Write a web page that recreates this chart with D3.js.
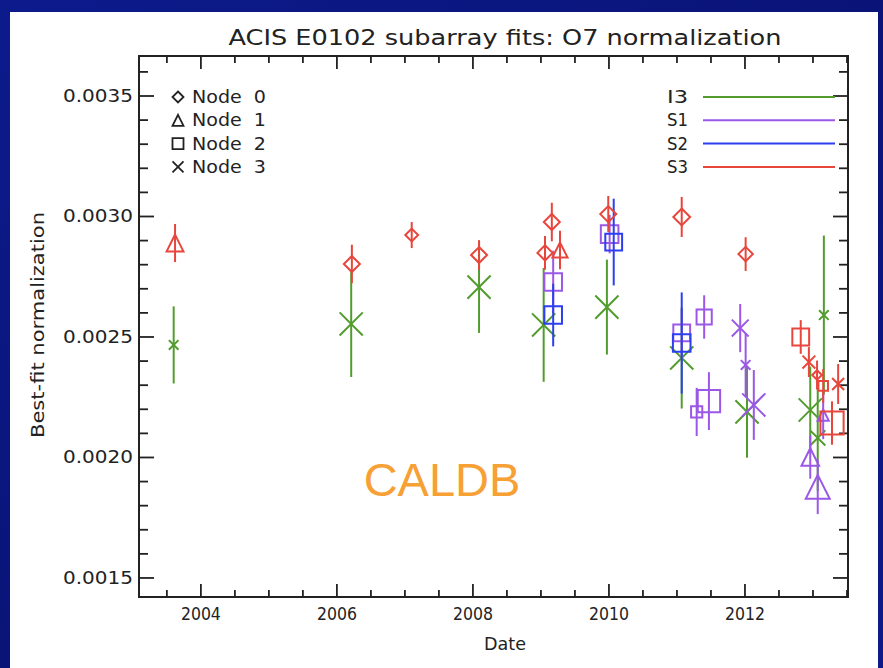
<!DOCTYPE html>
<html><head><meta charset="utf-8">
<script src="https://cdn.jsdelivr.net/npm/d3@7"></script>
<style>html,body{margin:0;padding:0;background:#0a1684;}svg{display:block}</style>
</head><body><svg id="c" width="883" height="668"></svg>
<script>
// ---- data ----
const chips = ["I3", "S1", "S2", "S3"];
const nodeLabels = ["Node 0", "Node 1", "Node 2", "Node 3"];
const xTickYears = [2004, 2006, 2008, 2010, 2012];
const yTickValues = [0.0015, 0.0020, 0.0025, 0.0030, 0.0035];
const yTickLabels = ["0.0015", "0.0020", "0.0025", "0.0030", "0.0035"];

const i3Dates  = [2003.60, 2006.21, 2008.09, 2009.04, 2009.97, 2011.07, 2012.03, 2012.96, 2013.07, 2013.16];
const i3Values = [0.002467, 0.002554, 0.002707, 0.002550, 0.002624, 0.002413, 0.002189, 0.002197, 0.002081, 0.002591];
const i3Errors = [0.00016, 0.00022, 0.00019, 0.000236, 0.000197, 0.00021, 0.00019, 0.00018, 0.00022, 0.00033];
const i3Nodes  = [3, 3, 3, 3, 3, 3, 3, 3, 3, 3];
const i3SymSize = [0.6, 1.45, 1.45, 1.45, 1.45, 1.45, 1.45, 1.45, 0.95, 0.6];

const s1Dates  = [2009.18, 2010.01, 2011.07, 2011.40, 2011.29, 2011.47, 2011.93, 2012.01, 2012.13, 2012.96, 2013.07, 2013.15];
const s1Values = [0.002728, 0.002927, 0.002517, 0.002583, 0.002189, 0.002234, 0.002537, 0.002384, 0.002218, 0.002002, 0.001878, 0.002176];
const s1Errors = [0.00013, 0.00008, 0.00010, 0.00009, 0.00010, 0.00012, 0.00010, 0.00013, 0.000145, 0.00009, 0.000113, 0.00010];
const s1Nodes  = [2, 2, 2, 2, 2, 2, 3, 3, 3, 1, 1, 1];
const s1SymSize = [1.1, 1.1, 1.05, 0.95, 0.7, 1.4, 1.05, 0.6, 1.45, 1.1, 1.5, 0.7];

const s2Dates  = [2009.18, 2010.07, 2011.07];
const s2Values = [0.002591, 0.002894, 0.002475];
const s2Errors = [0.00013, 0.00018, 0.00021];
const s2Nodes  = [2, 2, 2];
const s2SymSize = [1.1, 1.05, 1.1];

const s3Dates  = [2003.62, 2006.22, 2007.10, 2008.09, 2009.06, 2009.16, 2009.28, 2009.99, 2011.07, 2012.01, 2012.82, 2012.94, 2013.06, 2013.15, 2013.28, 2013.37];
const s3Values = [0.002890, 0.002803, 0.002923, 0.002840, 0.002849, 0.002977, 0.002861, 0.003010, 0.002998, 0.002844, 0.002500, 0.002396, 0.002342, 0.002297, 0.002143, 0.002305];
const s3Errors = [0.000079, 0.00008, 0.000054, 0.000062, 0.00007, 0.00008, 0.00008, 0.000075, 0.000083, 0.00007, 0.00007, 0.000062, 0.00006, 0.00007, 0.00009, 0.000083];
const s3Nodes  = [1, 0, 0, 0, 0, 0, 1, 0, 0, 0, 2, 3, 0, 2, 2, 3];
const s3SymSize = [1.05, 1.0, 0.8, 1.0, 0.95, 1.0, 0.95, 1.0, 1.05, 0.9, 1.05, 0.8, 0.6, 0.6, 1.45, 0.75];

// ---- styles ----
const chipColors = {I3: "#529c2e", S1: "#9b58e6", S2: "#2d3ff0", S3: "#e8463c"};
const series = [
  {chip: "I3", d: i3Dates, v: i3Values, e: i3Errors, n: i3Nodes, s: i3SymSize},
  {chip: "S1", d: s1Dates, v: s1Values, e: s1Errors, n: s1Nodes, s: s1SymSize},
  {chip: "S2", d: s2Dates, v: s2Values, e: s2Errors, n: s2Nodes, s: s2SymSize},
  {chip: "S3", d: s3Dates, v: s3Values, e: s3Errors, n: s3Nodes, s: s3SymSize}
];

const svg = d3.select("#c");
const defs = svg.append("defs");
const g0 = defs.append("linearGradient").attr("id","bg").attr("x1",0).attr("y1",0).attr("x2",1).attr("y2",1);
g0.append("stop").attr("offset","0%").attr("stop-color","#0c1b8c");
g0.append("stop").attr("offset","50%").attr("stop-color","#0a1478");
g0.append("stop").attr("offset","100%").attr("stop-color","#0d1a88");
svg.append("rect").attr("width",883).attr("height",668).attr("fill","url(#bg)");
svg.append("rect").attr("x",10).attr("y",12).attr("width",868).attr("height",656).attr("fill","#fff");

const L = 139, R = 848, T = 56, B = 597;
const x = d3.scaleLinear().domain([2003.09, 2013.515]).range([L, R]);
const y = d3.scaleLinear().domain([0.001421, 0.003666]).range([B, T]);
const symPx = d3.scaleLinear().domain([0, 1]).range([0, 16]);

const FONT = "'DejaVu Sans', 'Liberation Sans', sans-serif";
const ink = "#222";

// title
svg.append("text").attr("x", 505).attr("y", 45).attr("text-anchor","middle")
  .attr("font-family", FONT).attr("font-size", 22).attr("fill", ink)
  .attr("textLength", 553).attr("lengthAdjust","spacingAndGlyphs")
  .text("ACIS E0102 subarray fits: O7 normalization");

// frame
svg.append("rect").attr("x",L).attr("y",T).attr("width",R-L).attr("height",B-T)
  .attr("fill","none").attr("stroke",ink).attr("stroke-width",2);

// axes
const xMinor = d3.range(2003.5, 2013.51, 0.5);
const yMinor = d3.range(15, 37, 1).map(v => v / 10000);
const axG = svg.append("g").attr("stroke", ink).attr("stroke-width", 1.8);
function isMajorX(t){ return xTickYears.some(m => Math.abs(m - t) < 1e-6); }
function isMajorY(t){ return yTickValues.some(m => Math.abs(m - t) < 1e-9); }
xMinor.forEach(t => {
  const len = isMajorX(t) ? 13 : 7;
  const px = x(t);
  axG.append("line").attr("x1",px).attr("x2",px).attr("y1",B).attr("y2",B-len);
  axG.append("line").attr("x1",px).attr("x2",px).attr("y1",T).attr("y2",T+len);
});
yMinor.forEach(t => {
  if (t > y.domain()[1]) return;
  const len = isMajorY(t) ? 15 : 9;
  const py = y(t);
  axG.append("line").attr("x1",L).attr("x2",L+len).attr("y1",py).attr("y2",py);
  axG.append("line").attr("x1",R).attr("x2",R-len).attr("y1",py).attr("y2",py);
});

// tick labels
xTickYears.forEach(t => {
  svg.append("text").attr("x", x(t)).attr("y", 620).attr("text-anchor","middle")
    .attr("font-family", FONT).attr("font-size", 17).attr("fill", ink)
    .attr("textLength", 40).attr("lengthAdjust","spacingAndGlyphs").text(String(t));
});
yTickValues.forEach((t, i) => {
  svg.append("text").attr("x", 133).attr("y", y(t) + 6).attr("text-anchor","end")
    .attr("font-family", FONT).attr("font-size", 17).attr("fill", ink)
    .attr("textLength", 70).attr("lengthAdjust","spacingAndGlyphs").text(yTickLabels[i]);
});
svg.append("text").attr("x", 505).attr("y", 650).attr("text-anchor","middle")
  .attr("font-family", FONT).attr("font-size", 17).attr("fill", ink)
  .attr("textLength", 42).attr("lengthAdjust","spacingAndGlyphs").text("Date");
svg.append("text").attr("transform","translate(44,325) rotate(-90)").attr("text-anchor","middle")
  .attr("font-family", FONT).attr("font-size", 17).attr("fill", ink)
  .attr("textLength", 226).attr("lengthAdjust","spacingAndGlyphs").text("Best-fit normalization");

// CALDB annotation
svg.append("text").attr("x", 442).attr("y", 496).attr("text-anchor","middle")
  .attr("font-family","'Liberation Sans', Arial, sans-serif").attr("font-size", 47)
  .attr("fill","#f7a036").text("CALDB");

// symbol path generator
function symbolPath(node, w){
  const h = w / 2;
  switch(node){
    case 0: return `M0,${-h}L${h},0L0,${h}L${-h},0Z`;
    case 1: return `M0,${-h}L${h},${h}L${-h},${h}Z`;
    case 2: return `M${-h},${-h}H${h}V${h}H${-h}Z`;
    default: return `M${-h},${-h}L${h},${h}M${h},${-h}L${-h},${h}`;
  }
}

// data marks
series.forEach(sr => {
  const col = chipColors[sr.chip];
  const pts = sr.d.map((d, i) => ({d, v: sr.v[i], e: sr.e[i], n: sr.n[i], s: sr.s[i]}));
  const g = svg.append("g").attr("stroke", col).attr("fill","none").attr("stroke-width", 2);
  g.selectAll("line.err").data(pts).join("line").attr("class","err")
    .attr("x1", p => x(p.d)).attr("x2", p => x(p.d))
    .attr("y1", p => y(p.v - p.e)).attr("y2", p => y(p.v + p.e));
  g.selectAll("path.sym").data(pts).join("path").attr("class","sym")
    .attr("transform", p => `translate(${x(p.d)},${y(p.v)})`)
    .attr("d", p => symbolPath(p.n, symPx(p.s)));
});

// legend: nodes
const lg = svg.append("g");
nodeLabels.forEach((lab, i) => {
  const yy = 97 + i * 23.3;
  lg.append("path").attr("transform", `translate(178,${yy})`)
    .attr("d", symbolPath(i, 11)).attr("fill","none").attr("stroke", ink).attr("stroke-width", 1.8);
  lg.append("text").attr("x", 192).attr("y", yy + 6).attr("font-family", FONT).attr("font-size", 17)
    .attr("fill", ink).attr("textLength", 74).attr("lengthAdjust","spacingAndGlyphs")
    .attr("xml:space","preserve").text(lab.replace(" ", "  "));
});
// legend: chips
chips.forEach((c, i) => {
  const yy = 97 + i * 23.3;
  lg.append("text").attr("x", 688).attr("y", yy + 6).attr("text-anchor","end")
    .attr("font-family", FONT).attr("font-size", 17).attr("fill", ink)
    .attr("textLength", 21).attr("lengthAdjust","spacingAndGlyphs").text(c);
  lg.append("line").attr("x1", 703).attr("x2", 835).attr("y1", yy).attr("y2", yy)
    .attr("stroke", chipColors[c]).attr("stroke-width", 2);
});
</script></body></html>
